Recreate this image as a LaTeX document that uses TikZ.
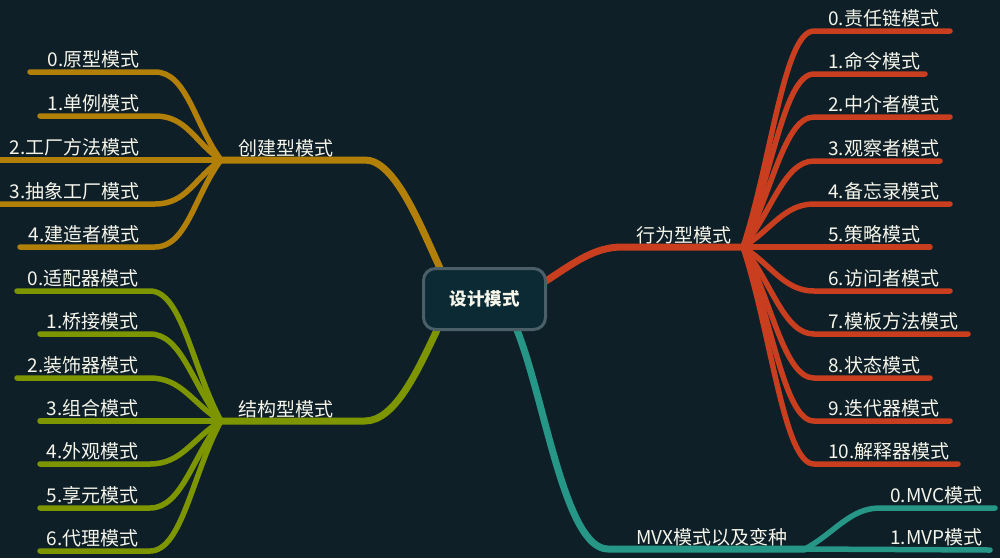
\documentclass[tikz,border=0pt]{standalone}
\usepackage{fontspec}
\setmainfont{Noto Sans CJK SC}
\usetikzlibrary{calc}
\pgfdeclarelayer{bg}
\pgfsetlayers{bg,main}
\definecolor{bgc}{HTML}{0E1F28}
\definecolor{cgold}{HTML}{B28008}
\definecolor{colive}{HTML}{7D9600}
\definecolor{cred}{HTML}{C83E1E}
\definecolor{cteal}{HTML}{269687}
\definecolor{nodefill}{HTML}{0C2A34}
\definecolor{nodeline}{HTML}{4B5F69}
\definecolor{txt}{HTML}{F5F5EA}
\tikzset{
  lbl/.style={text=txt, font=\fontsize{19}{21}\selectfont, inner sep=0pt},
  childline/.style={line width=5.5pt, line cap=round, line join=round},
  mainline/.style={line width=7pt, line cap=round, line join=round},
  centerbox/.style={draw=nodeline, fill=nodefill, line width=3pt, rounded corners=12pt,
    minimum width=122pt, minimum height=61pt, text=txt, font=\fontsize{17.5}{20}\selectfont\bfseries}
}
\begin{document}
\begin{tikzpicture}[x=1pt,y=-1pt]
\useasboundingbox (0,0) rectangle (1000,558);
\begin{pgfonlayer}{bg}
\fill[bgc] (0,0) rectangle (1000,558);
\end{pgfonlayer}
\node[centerbox] (center) at (484.5,299) {设计模式};

% ---------- creational ----------
\coordinate (hA) at (221,160);
\coordinate (hAe) at (365,160);
\coordinate (cA) at (440,268);
\node[lbl, anchor=base west] (tA) at (238,155) {创建型模式};
\begin{pgfonlayer}{bg}
\draw[mainline, cgold] (cA) .. controls (420,225) and (395,160) .. (hAe) -- (hA);
\end{pgfonlayer}
\foreach \i/\t/\y/\xl in {0/0.原型模式/72/30, 1/1.单例模式/116/40, 2/2.工厂方法模式/160/0, 3/3.抽象工厂模式/204/0, 4/4.建造者模式/247/20} {
  \node[lbl, anchor=base east] (ca\i) at (140,\y-5.5) {\t};
  \coordinate (cal\i) at (\xl,\y);
  \coordinate (car\i) at (155,\y);
  \begin{pgfonlayer}{bg}
  \draw[childline, cgold] (cal\i) -- (car\i) .. controls +(32,0) and ($(hA)!0.4!(car\i)$) .. (hA);
  \end{pgfonlayer}
}

% ---------- structural ----------
\coordinate (hC) at (221,421);
\coordinate (hCe) at (365,421);
\coordinate (cC) at (437,330);
\node[lbl, anchor=base west] (tC) at (238,416) {结构型模式};
\begin{pgfonlayer}{bg}
\draw[mainline, colive] (cC) .. controls (418,370) and (395,421) .. (hCe) -- (hC);
\end{pgfonlayer}
\foreach \i/\t/\y/\xl in {0/0.适配器模式/291/17, 1/1.桥接模式/334/40, 2/2.装饰器模式/378/17, 3/3.组合模式/421/40, 4/4.外观模式/464/40, 5/5.享元模式/508/40, 6/6.代理模式/551/40} {
  \node[lbl, anchor=base east] (cc\i) at (139,\y-5.5) {\t};
  \coordinate (ccl\i) at (\xl,\y);
  \coordinate (ccr\i) at (150,\y);
  \begin{pgfonlayer}{bg}
  \draw[childline, colive] (ccl\i) -- (ccr\i) .. controls +(32,0) and ($(hC)!0.4!(ccr\i)$) .. (hC);
  \end{pgfonlayer}
}

% ---------- behavioral ----------
\coordinate (hB) at (743,247);
\coordinate (hBs) at (622,247);
\coordinate (cB) at (546,281);
\node[lbl, anchor=base west] (tB) at (636,242) {行为型模式};
\begin{pgfonlayer}{bg}
\draw[mainline, cred] (cB) .. controls (575,262) and (595,247) .. (hBs) -- (hB);
\end{pgfonlayer}
\foreach \i/\t/\y/\xr in {0/0.责任链模式/31/950, 1/1.命令模式/74/925, 2/2.中介者模式/117/950, 3/3.观察者模式/161/940, 4/4.备忘录模式/204/950, 5/5.策略模式/247/930, 6/6.访问者模式/291/950, 7/7.模板方法模式/334/968, 8/8.状态模式/378/930, 9/9.迭代器模式/421/950, 10/10.解释器模式/464/958} {
  \node[lbl, anchor=base west] (cb\i) at (828,\y-5.5) {\t};
  \coordinate (cbr\i) at (\xr,\y);
  \coordinate (cbl\i) at (814,\y);
  \begin{pgfonlayer}{bg}
  \draw[childline, cred] (cbr\i) -- (cbl\i) .. controls +(-30,0) and ($(hB)!0.4!(cbl\i)$) .. (hB);
  \end{pgfonlayer}
}

% ---------- MVX ----------
\coordinate (hD) at (805,549);
\coordinate (hDs) at (608,549);
\coordinate (cD) at (517,330);
\node[lbl, anchor=base west] (tD) at (636,544) {MVX模式以及变种};
\begin{pgfonlayer}{bg}
\draw[mainline, cteal] (cD) .. controls (545,400) and (565,549) .. (hDs) -- (hD);
\end{pgfonlayer}
\node[lbl, anchor=base west] (cd0) at (890,502.5) {0.MVC模式};
\node[lbl, anchor=base west] (cd1) at (890,544.5) {1.MVP模式};
\coordinate (cdr0) at (995,508);
\coordinate (cdl0) at (880,508);
\coordinate (cdr1) at (990,550);
\begin{pgfonlayer}{bg}
\draw[childline, cteal] (cdr0) -- (cdl0) .. controls +(-30,0) and ($(hD)!0.4!(cdl0)$) .. (hD);
\draw[childline, cteal] (cdr1) -- (hD);
\end{pgfonlayer}
\end{tikzpicture}
\end{document}
